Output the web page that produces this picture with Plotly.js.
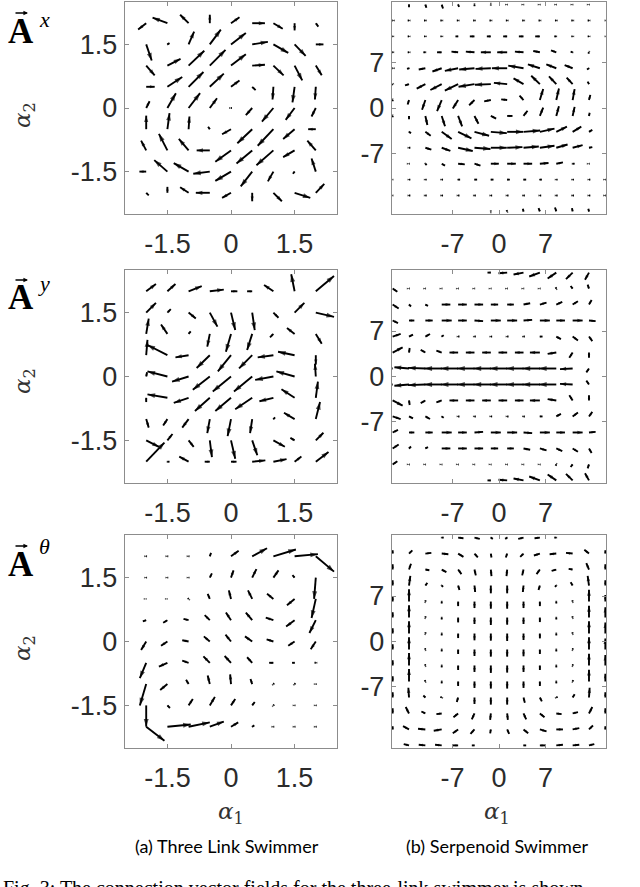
<!DOCTYPE html>
<html><head><meta charset="utf-8">
<script src="https://cdn.plot.ly/plotly-3.0.1.min.js"></script>
<style>html,body{margin:0;padding:0;background:#fff}</style>
</head><body>
<div id="chart" style="width:640px;height:887px"></div>
<script>
// ---------- grids ----------
const leftColsX = [-2,-1.5,-1,-0.5,0,0.5,1,1.5,2];
const leftRowsY = [2,1.5,1,0.5,0,-0.5,-1,-1.5,-2];
const rightColsX = [-16,-13.54,-11.08,-8.62,-6.15,-3.69,-1.23,1.23,3.69,6.15,8.62,11.08,13.54,16];
const rightRowsY = [16,13.54,11.08,8.62,6.15,3.69,1.23,-1.23,-3.69,-6.15,-8.62,-11.08,-13.54,-16];
const leftTickVals = [-1.5,0,1.5];
const leftTickText = ['-1.5','0','1.5'];
const rightTickVals = [-7,0,7];
const rightTickText = ['-7','0','7'];

// ---------- (a) three link swimmer, A^x ----------
const threeLinkAxU = [
 [-0.19,-0.35,-0.2,0,0.2,0.3,0.22,0,0.06],
 [0.13,0.05,0.13,0.26,0.35,0.37,0.35,0.26,0.18],
 [0.2,0.31,0.37,0.37,0.35,0.3,0.24,0.18,0.14],
 [0.2,0.35,0.35,0.33,0.2,0.08,-0.02,-0.05,-0.02],
 [0.08,0.2,0.27,0.17,0.02,-0.15,-0.27,-0.21,-0.1],
 [0,0.05,0.02,-0.04,-0.21,-0.35,-0.37,-0.27,-0.18],
 [-0.12,-0.2,-0.23,-0.31,-0.37,-0.37,-0.4,-0.27,-0.2],
 [-0.16,-0.31,-0.35,-0.39,-0.37,-0.27,-0.13,-0.04,-0.1],
 [0.06,0,-0.2,-0.33,-0.21,0,0.2,0.37,0.2]];
const threeLinkAxV = [
 [-0.15,0.13,0.2,0.2,0.14,0,-0.13,-0.17,-0.08],
 [-0.38,0.03,0.3,0.35,0.27,0.06,-0.2,-0.27,0],
 [-0.23,0.16,0.35,0.37,0.27,0.02,-0.23,-0.35,-0.23],
 [0,0.23,0.35,0.31,0.15,-0.08,-0.3,-0.37,-0.3],
 [0.16,0.35,0.35,0.23,0,-0.17,-0.32,-0.28,-0.2],
 [0.32,0.38,0.3,0.06,-0.12,-0.33,-0.39,-0.23,0],
 [0.23,0.39,0.27,0,-0.27,-0.31,-0.35,-0.16,0.23],
 [0,0.27,0.2,-0.05,-0.22,-0.35,-0.23,-0.05,0.31],
 [-0.06,0.14,0.13,0,-0.12,-0.2,-0.2,-0.12,0.21]];

// ---------- (a) three link swimmer, A^y ----------
const threeLinkAyU = [
 [0.23,0.19,0.31,0.33,0.15,-0.12,-0.22,-0.08,0.43],
 [0.23,0.08,0.17,0.18,0.1,0.06,0.12,0.23,0.43],
 [0.06,-0.15,0.05,-0.06,-0.12,-0.12,-0.08,-0.18,0.14],
 [0.03,-0.47,-0.31,-0.31,-0.31,-0.31,-0.37,-0.39,0],
 [0.02,-0.47,-0.39,-0.4,-0.43,-0.43,-0.43,-0.43,-0.02],
 [0,-0.47,-0.35,-0.35,-0.37,-0.4,-0.33,-0.31,0.05],
 [0.06,-0.1,-0.15,-0.06,-0.08,-0.05,0.04,-0.25,0.1],
 [0.3,0.12,0.12,0.05,0.1,0.12,0.27,-0.1,0.18],
 [0.43,0.05,-0.22,-0.12,0.13,0.31,0.31,0.16,0.3]];
const threeLinkAyV = [
 [0.17,0.17,0.12,0.04,0,0,0.15,0.4,0.36],
 [0.23,0.08,-0.14,-0.33,-0.41,-0.41,-0.12,0.23,-0.1],
 [0.36,0.22,0.06,-0.3,-0.42,-0.38,-0.08,0.14,-0.23],
 [0.36,0.24,-0.05,-0.3,-0.38,-0.31,-0.05,0.08,-0.22],
 [0.1,0.12,-0.12,-0.31,-0.35,-0.35,-0.08,0.12,0.3],
 [-0.1,0.08,-0.12,-0.31,-0.31,-0.27,-0.08,0.2,0.38],
 [-0.2,-0.15,-0.2,-0.33,-0.4,-0.33,0.04,0.15,0.4],
 [-0.15,0.15,-0.15,-0.39,-0.43,-0.35,-0.15,0.06,0.18],
 [0.45,0,0.12,0,0,0.03,0.06,0.12,0.23]];

// ---------- (a) three link swimmer, A^theta ----------
const threeLinkAthU = [
 [0.02,0.02,0.02,0.03,0.18,0.35,0.53,0.55,0.43],
 [0.02,0.02,0.02,0.05,0.06,0.1,0.12,-0.05,-0.04],
 [0.01,0.01,-0.02,-0.05,-0.05,-0.1,-0.15,-0.18,-0.1],
 [-0.08,-0.1,-0.12,-0.12,-0.12,-0.15,-0.18,-0.2,-0.15],
 [-0.12,-0.15,-0.15,-0.14,-0.13,-0.17,-0.16,-0.15,-0.12],
 [-0.15,-0.2,-0.15,-0.15,-0.15,-0.12,-0.1,-0.06,-0.03],
 [-0.15,-0.17,-0.06,-0.05,-0.02,-0.04,0.02,0.02,0.02],
 [0,0.06,0.1,0.12,0.1,0.06,0.02,0.02,0.02],
 [0.43,0.55,0.5,0.33,0.17,0.05,0.02,0.02,0.02]];
const threeLinkAthV = [
 [0,0,0,0.08,0.13,0.19,0.16,0.05,-0.36],
 [0,0,0,0.1,0.17,0.2,0.17,0.06,-0.5],
 [0,0,0.02,0.12,0.2,0.2,0.12,-0.15,-0.45],
 [-0.03,-0.06,0.03,0.12,0.18,0.18,0.06,-0.15,-0.3],
 [-0.2,-0.1,0.03,0.12,0.16,0.12,0.05,-0.1,-0.18],
 [-0.36,-0.09,0.05,0.15,0.16,0.13,0,0,0],
 [-0.5,-0.14,0.1,0.2,0.23,0.12,0.02,0.02,0],
 [-0.5,-0.06,0.15,0.2,0.15,0.08,0.02,0,0],
 [-0.33,0.05,0.1,0.12,0.1,0.03,0,0,0]];

// ---------- (b) serpenoid swimmer, A^x ----------
const serpAxU = [
 [0,0,0.15,0.2,0.15,0,0,0.1,0.1,0.1,0.1,0.1,0.1,0],
 [-0.1,-0.2,-0.2,-0.2,-0.2,-0.2,-0.2,-0.2,-0.2,-0.2,-0.2,-0.2,-0.2,-0.1],
 [-0.2,-0.2,-0.2,-0.2,-0.4,-0.7,-0.6,-0.6,-0.7,-0.7,-0.3,-0.2,-0.2,-0.1],
 [-0.2,-0.2,-0.3,-0.7,-1.0,-1.3,-1.5,-1.5,-1.3,-1.0,-0.8,-0.3,-0.1,0],
 [-0.1,-0.3,-1.0,-1.4,-2.0,-2.3,-2.3,-2.3,-2.3,-1.8,-1.5,-1.2,-0.3,0],
 [-0.2,-0.6,-1.3,-1.7,-2.0,-2.4,-2.4,-2.0,-1.5,-1.3,-1.1,-0.9,-0.2,0],
 [0,-0.2,-0.5,-0.7,-0.8,-0.8,-1.0,-0.9,-0.6,0.5,0.4,0.3,0.2,0],
 [0,0,0.3,0.5,0.6,0.6,0.8,0.8,0.6,0.5,0.4,0.3,0.1,0],
 [0,0.3,0.8,1.5,2.0,2.2,2.4,2.4,2.5,2.2,1.6,1.3,0.5,0],
 [0,0.2,0.9,1.3,2.2,2.4,2.4,2.3,2.3,2.2,1.7,1.5,0.5,0],
 [0,0.1,0.2,0.5,1.0,0.9,1.2,1.3,1.3,1.3,1.0,0.3,0.1,0],
 [0.1,0.2,0.2,0.2,0.3,0.4,0.4,0.4,0.4,0.3,0.2,0.2,0.2,0.1],
 [0.1,0.2,0.2,0.2,0.2,0.2,0.2,0.2,0.2,0.2,0.2,0.2,0.2,0.1],
 [0,0,0,0,0,0,0,-0.1,-0.1,-0.2,-0.2,-0.1,-0.1,0]];
const serpAxV = [
 [0,-0.4,-0.5,-0.6,-0.35,-0.25,-0.15,0,0,0,0,0,0,0],
 [0,0,0,0,0,0,0,0,0,0,0,0,0,0],
 [0,0,0,0,0,0,0,0,0,0,0,0,0,0],
 [0,0,0,0,0.1,0.1,0,0,0.1,0.2,0.3,0.1,-0.2,0],
 [0,-0.1,-0.2,-0.5,-0.4,-0.2,-0.1,0,0.4,0.6,0.6,0.5,-0.2,0],
 [-0.1,-0.2,-0.7,-0.9,-1.0,-0.4,-0.1,0.2,0.9,1.3,1.2,1.0,0.4,0],
 [-0.2,-0.7,-1.5,-1.7,-1.3,-0.8,-0.2,0.1,0.7,1.7,1.8,1.7,0.8,0],
 [-0.2,-0.5,-1.4,-1.6,-1.6,-1.2,-0.4,0,0.8,1.3,1.5,1.4,0.5,0],
 [0,-0.2,-0.6,-1.1,-1.0,-0.6,-0.2,0,0.2,0.5,0.8,0.8,0.3,0],
 [0,0,-0.3,-0.5,-0.5,-0.2,0,0.1,0.2,0.3,0.5,0.4,0.1,0],
 [0,0,-0.2,-0.3,-0.1,-0.3,0,0,0,0.1,0.2,0,0,0],
 [0,0,0,0,0,0,0,0,0,0,0,0,0,0],
 [0,0,0,0,0,0,0,0,0,0,0,0,0,0],
 [0,0,0,0,0,0,0.15,0.2,0.4,0.5,0.6,0.5,0.4,0]];

// ---------- (b) serpenoid swimmer, A^y ----------
const serpAyU = [
 [0,0,0,0,0,0,-0.5,-1.3,-1.5,-1.6,-1.3,-1.0,-0.6,0],
 [0.7,0.1,0.1,0.1,0.1,0.1,0.1,0.1,0.1,0.1,-0.1,-0.3,-0.2,0],
 [0.9,0.3,0.4,1.3,1.3,1.3,1.1,1.0,1.0,1.0,0.9,0.8,0.4,0],
 [0.8,0.8,1.1,1.5,1.3,1.3,1.5,1.5,1.3,1.5,1.3,1.5,1.0,0],
 [1.2,0.6,0.7,0.3,0.2,0.2,0.2,0.2,0.2,0.4,0.7,0.8,0.5,0],
 [1.5,0.1,-0.7,-0.8,-1.3,-1.3,-1.3,-1.3,-1.3,-1.5,-1.3,-0.5,0,0],
 [-1.0,-2.2,-2.6,-2.6,-2.6,-2.6,-2.6,-2.6,-2.6,-2.6,-2.6,-1.9,-0.4,0],
 [-1.0,-2.2,-2.6,-2.6,-2.6,-2.6,-2.6,-2.6,-2.6,-2.6,-2.6,-1.9,-0.4,0],
 [1.5,0.1,-0.7,-0.8,-1.3,-1.3,-1.3,-1.3,-1.3,-1.5,-1.3,-0.5,0,0],
 [1.2,0.6,0.7,0.3,0.2,0.2,0.2,0.2,0.2,0.4,0.7,0.8,0.5,0],
 [0.8,0.8,1.1,1.5,1.3,1.3,1.5,1.5,1.3,1.5,1.3,1.5,1.0,0],
 [0.9,0.3,0.4,1.3,1.3,1.3,1.1,1.0,1.0,1.0,0.9,0.8,0.4,0],
 [0.7,0.1,0.1,0.1,0.1,0.1,0.1,0.1,0.1,0.1,-0.1,-0.3,-0.2,0],
 [0,0,0,0,0,0,-0.5,-1.3,-1.5,-1.6,-1.3,-1.0,-0.6,0]];
const serpAyV = [
 [0,0,0,0,0,0,0,-0.1,-0.3,-0.6,-0.9,-1.0,-1.1,0],
 [-0.5,0,0,0,0,0,0,0,0,0,0.2,0.4,0.6,0],
 [-0.6,-0.3,-0.2,0,0,0,0,0,0.2,0.3,0.4,0.5,0.7,0],
 [-0.4,0,0,0,0,-0.1,0,0,0.1,0,0,0,-0.1,0],
 [0.4,0.3,0.4,0.2,0,0,0,0,0,0,-0.4,-0.6,-0.7,0],
 [0.8,0.7,0.4,0.3,0,0,0,0,0,0,-0.2,-0.8,-0.8,0],
 [0.1,0.2,0.1,0,0,0,0,0,0,0,0,-0.1,-0.6,0],
 [-0.1,-0.2,-0.1,0,0,0,0,0,0,0,0,0.1,0.6,0],
 [-0.8,-0.7,-0.4,-0.3,0,0,0,0,0,0,0.2,0.8,0.8,0],
 [-0.4,-0.3,-0.4,-0.2,0,0,0,0,0,0,0.4,0.6,0.7,0],
 [0.4,0,0,0,0,0.1,0,0,-0.1,0,0,0,0.1,0],
 [0.6,0.3,0.2,0,0,0,0,0,-0.2,-0.3,-0.4,-0.5,-0.7,0],
 [0.5,0,0,0,0,0,0,0,0,0,-0.2,-0.4,-0.6,0],
 [0,0,0,0,0,0,0,0.1,0.3,0.6,0.9,1.0,1.1,0]];

// ---------- (b) serpenoid swimmer, A^theta ----------
const serpAthU = [
 [0,0,0,0.3,0.8,0.8,0.3,-0.3,-0.8,-0.8,-0.3,0,0,0],
 [0,0.5,0.9,1.0,0.8,0.5,0.1,-0.2,-0.5,-0.9,-1.0,-1.0,-0.7,0],
 [0,0.3,0.6,0.7,0.5,0.2,0.1,-0.1,-0.2,-0.5,-0.7,-0.6,-0.4,0],
 [0,0.2,0.3,0.2,0.2,0.1,0,0,-0.1,-0.2,-0.2,-0.3,-0.2,0],
 [0,0,0.05,0,0,0,0,0,0,0,0,-0.05,0,0],
 [0,0,0.05,0,0,0,0,0,0,0,0,-0.05,0,0],
 [0,0,0.05,0,0,0,0,0,0,0,0,-0.05,0,0],
 [0,0,-0.05,0,0,0,0,0,0,0,0,0.05,0,0],
 [0,0,-0.05,0,0,0,0,0,0,0,0,0.05,0,0],
 [0,0,-0.1,0,0,0,0,0,0,0,0,0.1,0,0],
 [0,-0.1,-0.3,-0.2,-0.2,0,0,0,0.2,0.3,0.2,0.3,0.1,0],
 [0,-0.5,-0.6,-0.8,-0.7,-0.4,-0.1,0.1,0.4,0.7,0.8,0.8,0.5,0],
 [0,-0.9,-1.1,-1.2,-0.8,-0.6,-0.1,0.3,0.7,1.0,1.0,1.0,0.6,0],
 [0,-0.8,-1.0,-1.0,-0.8,-0.4,0,0,0.4,0.8,1.0,1.0,0.8,0]];
const serpAthV = [
 [0,0,0,0,-0.1,-0.2,-0.2,-0.2,-0.2,-0.1,0,0,0,0],
 [0.5,0.5,0.1,-0.1,-0.5,-0.6,-0.6,-0.6,-0.5,-0.3,-0.1,0.1,0.6,0.5],
 [0.8,0.9,-0.1,-0.4,-0.7,-0.9,-1.0,-1.0,-0.9,-0.7,-0.2,0.1,1.0,0.8],
 [0.8,1.5,0.4,-0.2,-0.7,-1.0,-1.2,-1.2,-1.0,-0.7,-0.2,0.5,1.5,0.8],
 [0.8,1.9,0.2,-0.3,-0.7,-1.0,-1.1,-1.1,-1.0,-0.7,-0.3,0.2,1.8,1.0],
 [0.8,1.9,0.2,-0.3,-0.75,-1.0,-1.15,-1.1,-1.0,-0.7,-0.3,0.2,1.8,1.6],
 [0.8,1.9,0.2,-0.3,-0.7,-1.05,-1.1,-1.15,-1.0,-0.75,-0.3,0.2,1.9,1.7],
 [0.8,1.9,0.2,-0.3,-0.7,-1.0,-1.1,-1.1,-1.05,-0.7,-0.3,0.2,1.9,1.7],
 [0.8,1.9,0.2,-0.3,-0.7,-1.0,-1.15,-1.1,-1.0,-0.7,-0.3,0.2,1.8,1.6],
 [0.8,1.9,0.2,-0.3,-0.7,-1.0,-1.1,-1.1,-1.0,-0.7,-0.3,0.2,1.8,1.2],
 [0.8,1.5,0.3,0.1,-0.7,-1.0,-1.1,-1.1,-0.8,-0.6,0.1,0.5,1.5,0.8],
 [0.8,1.0,0.3,-0.1,-0.6,-0.9,-1.0,-1.0,-0.9,-0.6,-0.1,0.2,1.0,0.8],
 [0.5,0.5,0.1,-0.2,-0.6,-0.7,-0.6,-0.7,-0.6,-0.3,0,0.2,0.6,0.5],
 [0,0.2,0.1,0.1,0,0,0,0,0,0,0.1,0.1,0.2,0]];

// ---------- layout geometry (pixels) ----------
const W = 640, H = 887;
const colPx = {left:[125,337], right:[392,606]};
const rowPx = [[2,214],[270,483],[535,748]];
const leftRange = [-2.5,2.5];
const rightRangeX = [-16.1,16.1];
const rightRangeY = [-16.4,16.4];

function quiver(cols, rows, U, V, ax, pxX, pxY) {
  const x = [], y = [], s = [];
  for (let r = 0; r < rows.length; r++) {
    for (let c = 0; c < cols.length; c++) {
      const u = U[r][c], v = V[r][c];
      if (u === 0 && v === 0) continue;
      const L = Math.hypot(u * pxX, v * pxY);
      x.push(cols[c], cols[c] + u, null);
      y.push(rows[r], rows[r] + v, null);
      s.push(0, Math.max(3, Math.min(8, 2 + 0.35 * L)), 0);
    }
  }
  return {
    type: 'scatter', mode: 'lines+markers', x: x, y: y,
    xaxis: 'x' + ax, yaxis: 'y' + ax,
    line: {color: '#000', width: 1.9, backoff: 0},
    marker: {symbol: 'arrow', angleref: 'previous', size: s, color: '#000', line: {width: 0}},
    hoverinfo: 'skip', showlegend: false, connectgaps: false
  };
}

const pxL = 212 / 5;
const pxRX = 214 / 32.2, pxRY = 213 / 32.8;
const data = [
  quiver(leftColsX, leftRowsY, threeLinkAxU, threeLinkAxV, '', pxL, pxL),
  quiver(rightColsX, rightRowsY, serpAxU, serpAxV, '2', pxRX, pxRY),
  quiver(leftColsX, leftRowsY, threeLinkAyU, threeLinkAyV, '3', pxL, pxL),
  quiver(rightColsX, rightRowsY, serpAyU, serpAyV, '4', pxRX, pxRY),
  quiver(leftColsX, leftRowsY, threeLinkAthU, threeLinkAthV, '5', pxL, pxL),
  quiver(rightColsX, rightRowsY, serpAthU, serpAthV, '6', pxRX, pxRY)
];

const tickFont = {family: 'Liberation Sans, Arial, sans-serif', size: 27, color: '#2b2b2b'};
function axis(domain, range, tv, tt, anchor, isX) {
  return {
    domain: domain, range: range, anchor: anchor,
    tickmode: 'array', tickvals: tv, ticktext: tt,
    showgrid: false, zeroline: false, showline: true, mirror: 'ticks',
    linecolor: '#8c8c8c', linewidth: 1.2, ticks: 'inside', ticklen: 4,
    tickcolor: '#8c8c8c', tickwidth: 1, tickfont: tickFont,
    ticklabelstandoff: isX ? 5 : 1, fixedrange: true
  };
}
const layout = {
  width: W, height: H, autosize: false,
  margin: {l: 0, r: 0, t: 0, b: 0},
  paper_bgcolor: '#fff', plot_bgcolor: '#fff', showlegend: false
};
const names = ['', '2', '3', '4', '5', '6'];
for (let i = 0; i < 6; i++) {
  const side = i % 2 === 0 ? 'left' : 'right';
  const row = Math.floor(i / 2);
  const xd = [colPx[side][0] / W, colPx[side][1] / W];
  const yd = [1 - rowPx[row][1] / H, 1 - rowPx[row][0] / H];
  const n = names[i];
  const isL = side === 'left';
  layout['xaxis' + n] = axis(xd, isL ? leftRange : rightRangeX, isL ? leftTickVals : rightTickVals, isL ? leftTickText : rightTickText, 'y' + n, true);
  layout['yaxis' + n] = axis(yd, isL ? leftRange : rightRangeY, isL ? leftTickVals : rightTickVals, isL ? leftTickText : rightTickText, 'x' + n, false);
}

function ann(text, xpx, ypx, font, extra) {
  return Object.assign({text: text, x: xpx / W, y: 1 - ypx / H, xref: 'paper', yref: 'paper',
    showarrow: false, xanchor: 'center', yanchor: 'middle', font: font}, extra || {});
}
const serif = 'Liberation Serif, Times New Roman, serif';
const mathSerif = 'DejaVu Serif, serif';
const aFont = {family: serif, size: 35, color: '#000'};
const supFont = {family: serif, size: 22, color: '#000'};
const greekFont = {family: mathSerif, size: 23, color: '#333'};
const capFont = {family: 'Lato, Open Sans, sans-serif', size: 18, color: '#000'};
const annotations = [];
const titleRows = [{a: 31, s: 19, ar: 13, t: '<i>x</i>'}, {a: 298, s: 283, ar: 280, t: '<i>y</i>'}, {a: 564, s: 546, ar: 546, t: '<i>θ</i>'}];
titleRows.forEach(function (t) {
  annotations.push(ann('<b>A</b>', 21, t.a, aFont));
  // small vector arrow over the A
  annotations.push({text: '', x: 28 / W, y: 1 - t.ar / H, xref: 'paper', yref: 'paper',
    showarrow: true, ax: -14, ay: 0, axref: 'pixel', ayref: 'pixel',
    arrowhead: 2, arrowsize: 0.7, arrowwidth: 1.3, arrowcolor: '#000', standoff: 0, startstandoff: 0});
  annotations.push(ann(t.t, 44, t.s, supFont));
});
[115, 381, 648].forEach(function (yc) {
  annotations.push(ann('<i>α</i><sub>2</sub>', 24, yc, greekFont, {textangle: -90}));
});
annotations.push(ann('<i>α</i><sub>1</sub>', 231, 813, greekFont));
annotations.push(ann('<i>α</i><sub>1</sub>', 497, 813, greekFont));
annotations.push(ann('(a) Three Link Swimmer', 227, 846, capFont));
annotations.push(ann('(b) Serpenoid Swimmer', 497, 846, capFont));
annotations.push(Object.assign(ann('Fig. 3: The connection vector fields for the three-link swimmer is shown', 1, 875,
  {family: serif, size: 20, color: '#000'}), {xanchor: 'left', yanchor: 'top'}));
layout.annotations = annotations;

Plotly.newPlot('chart', data, layout, {staticPlot: true, displayModeBar: false});
</script>
</body></html>
